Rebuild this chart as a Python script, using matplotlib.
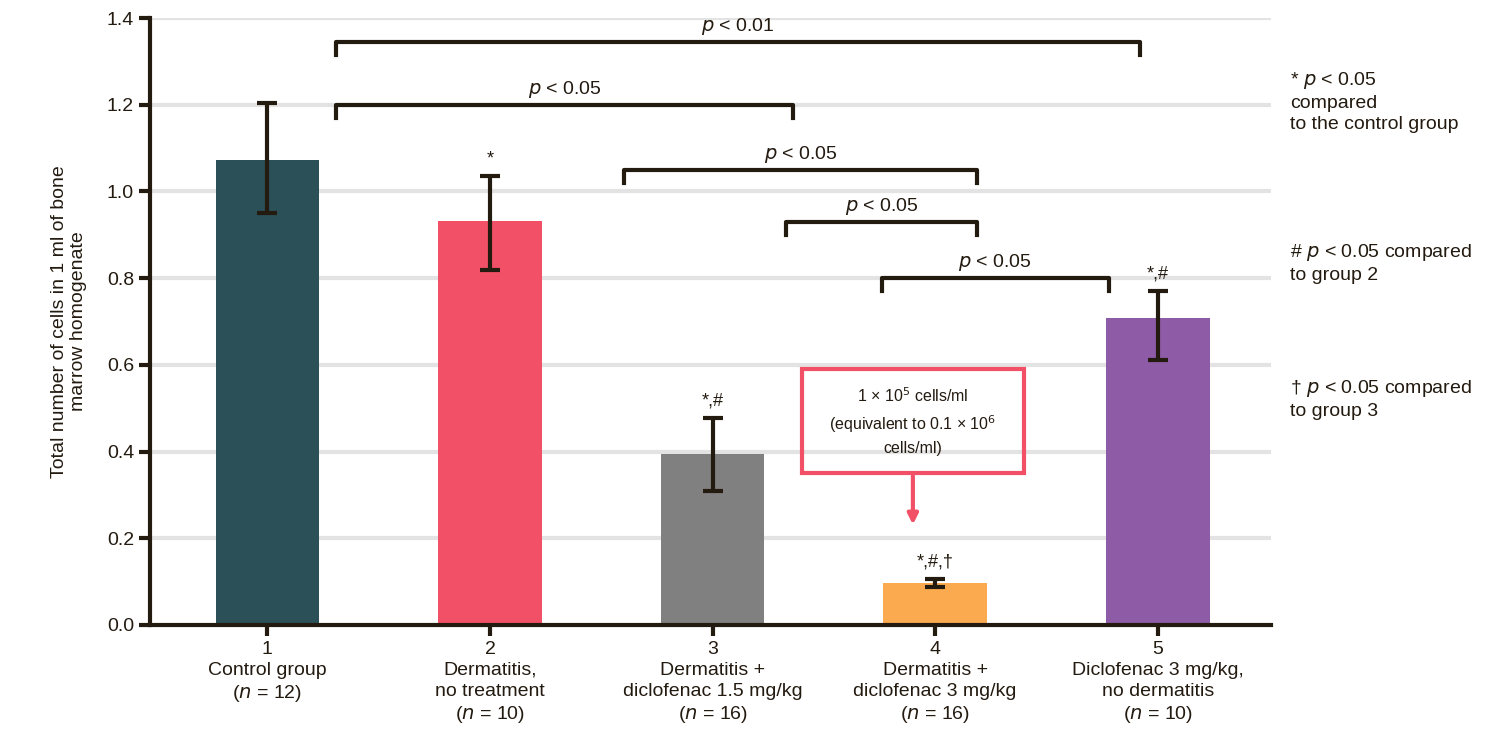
import matplotlib
matplotlib.use("Agg")
import matplotlib.pyplot as plt
from matplotlib.patches import Rectangle

plt.rcParams['font.family'] = ['Liberation Sans', 'DejaVu Sans']

groups = ["1\nControl group\n($n$ = 12)", "2\nDermatitis,\nno treatment\n($n$ = 10)",
          "3\nDermatitis +\ndiclofenac 1.5 mg/kg\n($n$ = 16)",
          "4\nDermatitis +\ndiclofenac 3 mg/kg\n($n$ = 16)",
          "5\nDiclofenac 3 mg/kg,\nno dermatitis\n($n$ = 10)"]
values = [1.072, 0.932, 0.394, 0.097, 0.708]
err_low = [0.950, 0.818, 0.310, 0.088, 0.612]
err_high = [1.205, 1.035, 0.478, 0.105, 0.770]
marks = ["", "*", "*,#", "*,#,\u2020", "*,#"]
colors = ["#2b5058", "#f25066", "#808080", "#fcaa4f", "#8e5ba6"]
brackets = [(0.31, 3.92, 1.345, "p < 0.01"), (0.31, 2.36, 1.20, "p < 0.05"),
            (1.60, 3.19, 1.05, "p < 0.05"), (2.33, 3.19, 0.93, "p < 0.05"),
            (2.76, 3.78, 0.80, "p < 0.05")]
dark = "#231a10"

fig = plt.figure(figsize=(15.05, 7.52), dpi=100)
ax = fig.add_axes([0.0997, 0.169, 0.745, 0.807])
x = list(range(5))
ax.set_ylim(0, 1.4)
ax.set_xlim(-0.527, 4.51)
for yv in [0.2, 0.4, 0.6, 0.8, 1.0, 1.2, 1.4]:
    ax.axhline(yv, color="#e3e3e3", lw=3, zorder=0)
ax.bar(x, values, width=0.465, color=colors, zorder=2)
yerr = [[v - l for v, l in zip(values, err_low)], [h - v for v, h in zip(values, err_high)]]
ax.errorbar(x, values, yerr=yerr, fmt="none", ecolor=dark, elinewidth=3, capsize=7, capthick=3, zorder=3)
for xi, h, m in zip(x, err_high, marks):
    if m:
        ax.text(xi, h + 0.02, m, ha="center", va="bottom", fontsize=13, color=dark)
for x0, x1, yb, t in brackets:
    ax.plot([x0, x0, x1, x1], [yb - 0.03, yb, yb, yb - 0.03], color=dark, lw=3, zorder=3)
    ax.text((x0 + x1) / 2, yb + 0.012, "$p$ < " + t.split("< ")[1], ha="center", va="bottom", fontsize=14, color=dark)

ax.add_patch(Rectangle((2.4, 0.35), 1.0, 0.24, fill=False, edgecolor="#f25066", lw=3, zorder=4))
ax.text(2.9, 0.47, "1 \u00d7 10$^5$ cells/ml\n(equivalent to 0.1 \u00d7 10$^6$\ncells/ml)",
        ha="center", va="center", fontsize=11.5, color=dark, linespacing=1.5)
ax.annotate("", xy=(2.9, 0.225), xytext=(2.9, 0.35),
            arrowprops=dict(arrowstyle="-|>", color="#f25066", lw=3, mutation_scale=15))

ax.set_xticks(x)
ax.set_xticklabels(groups, fontsize=14, color=dark, linespacing=1.3)
ax.set_yticks([0, 0.2, 0.4, 0.6, 0.8, 1.0, 1.2, 1.4])
ax.set_yticklabels(["0.0", "0.2", "0.4", "0.6", "0.8", "1.0", "1.2", "1.4"], fontsize=14, color=dark)
ax.tick_params(axis="both", color=dark, width=3, length=8)
for s in ["top", "right"]:
    ax.spines[s].set_visible(False)
for s in ["left", "bottom"]:
    ax.spines[s].set_color(dark)
    ax.spines[s].set_linewidth(3)
ax.set_ylabel("Total number of cells in 1 ml of bone\nmarrow homogenate", fontsize=14, color=dark, labelpad=14)

fig.text(0.857, 0.865, "* $p$ < 0.05\ncompared\nto the control group", fontsize=14, color=dark, va="center", linespacing=1.3)
fig.text(0.857, 0.650, "# $p$ < 0.05 compared\nto group 2", fontsize=14, color=dark, va="center", linespacing=1.3)
fig.text(0.857, 0.470, "\u2020 $p$ < 0.05 compared\nto group 3", fontsize=14, color=dark, va="center", linespacing=1.3)
fig.savefig("out.png", dpi=100)
